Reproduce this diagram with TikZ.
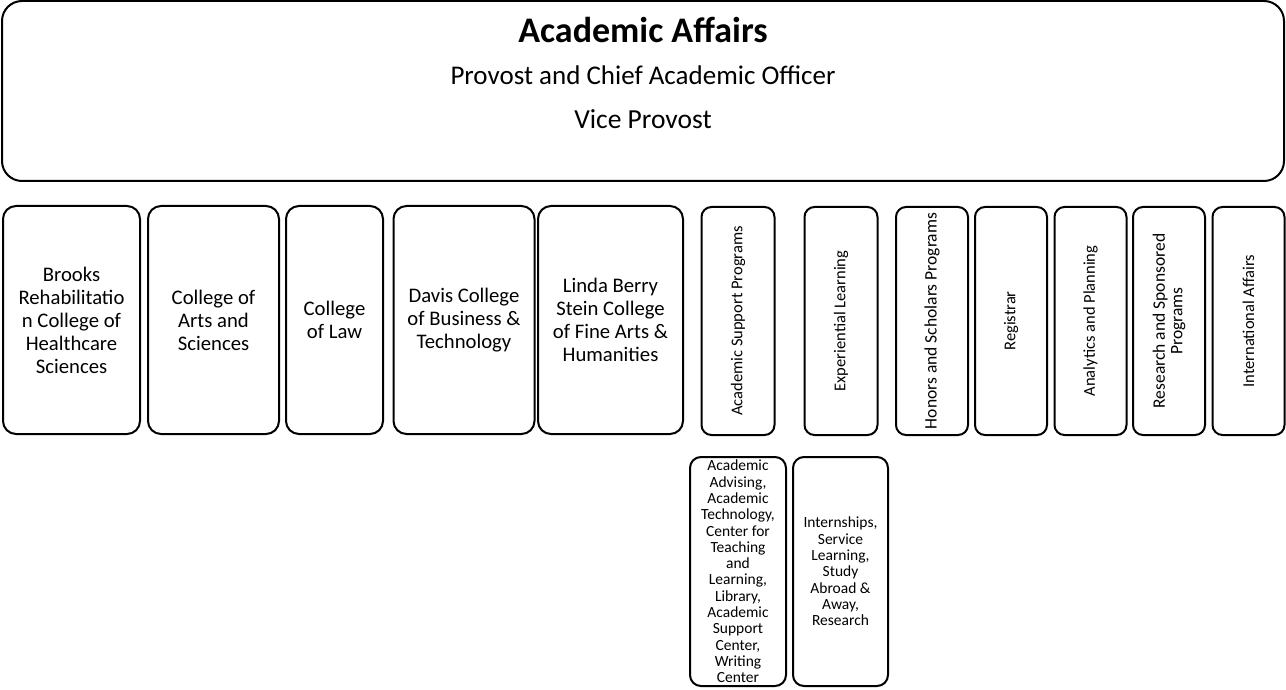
\documentclass[tikz,border=0pt]{standalone}
\usepackage{fontspec}
\setmainfont{Carlito}
\begin{document}
\begin{tikzpicture}[x=1pt,y=-1pt,
  box/.style={draw=black, line width=2pt, fill=white, inner sep=0pt, align=center},
  topbox/.style={box, rounded corners=20pt},
  colbox/.style={box, rounded corners=13pt, font=\fontsize{20.7}{23}\selectfont},
  vbox/.style={box, rounded corners=10pt, rotate=90, font=\fontsize{16.5}{17.5}\selectfont},
  vboxl/.style={vbox, font=\fontsize{17.5}{17.5}\selectfont},
  subbox/.style={box, rounded corners=11pt},
  subtext/.style={inner sep=0pt, align=center, font=\fontsize{15.5}{16.3}\selectfont},
  head/.style={inner sep=0pt, anchor=base}]
\useasboundingbox (0,0) rectangle (1286,690);
% top
\node[topbox, minimum width=1282pt, minimum height=180pt] (aa) at (643,91) {};
\node[head, font=\fontsize{36}{40}\selectfont\bfseries] (t1) at (643,43) {Academic Affairs};
\node[head, font=\fontsize{27}{30}\selectfont] (t2) at (643,85) {Provost and Chief Academic Officer};
\node[head, font=\fontsize{27.5}{30}\selectfont] (t3) at (643,129) {Vice Provost};
% colleges
\node[colbox, minimum width=137pt, minimum height=228pt] (brooks) at (71.5,320) {Brooks\\Rehabilitatio\\n College of\\Healthcare\\Sciences};
\node[colbox, minimum width=131pt, minimum height=228pt] (arts) at (213.5,320) {College of\\Arts and\\Sciences};
\node[colbox, minimum width=97pt, minimum height=228pt] (law) at (334.5,320) {College\\of Law};
\node[colbox, minimum width=141pt, minimum height=228pt] (davis) at (464,320) {Davis College\\of Business \&\\Technology};
\node[colbox, minimum width=145pt, minimum height=228pt] (stein) at (610.5,320) {Linda Berry\\Stein College\\of Fine Arts \&\\Humanities};
% vertical boxes
\node[vbox, minimum width=228pt, minimum height=73pt] (asp) at (738,321) {Academic Support Programs};
\node[vbox, minimum width=228pt, minimum height=73pt] (exp) at (841,321) {Experiential Learning};
\node[vboxl, minimum width=228pt, minimum height=72pt] (hon) at (932,321) {Honors and Scholars Programs};
\node[vbox, minimum width=228pt, minimum height=72pt] (reg) at (1011,321) {Registrar};
\node[vbox, minimum width=228pt, minimum height=72pt] (ana) at (1090.5,321) {Analytics and Planning};
\node[vboxl, minimum width=228pt, minimum height=72pt] (res) at (1169,321) {Research and Sponsored\\Programs};
\node[vbox, minimum width=228pt, minimum height=72pt] (int) at (1248.5,321) {International Affairs};
% sub boxes
\node[subbox, minimum width=96pt, minimum height=229pt] (asps) at (738,571.5) {};
\node[subtext] (aspt) at (asps.center) {Academic\\Advising,\\Academic\\Technology,\\Center for\\Teaching\\and\\Learning,\\Library,\\Academic\\Support\\Center,\\Writing\\Center};
\node[subbox, minimum width=95pt, minimum height=229pt] (exps) at (840.5,571.5) {};
\node[subtext] (expt) at (exps.center) {Internships,\\Service\\Learning,\\Study\\Abroad \&\\Away,\\Research};
\end{tikzpicture}
\end{document}
